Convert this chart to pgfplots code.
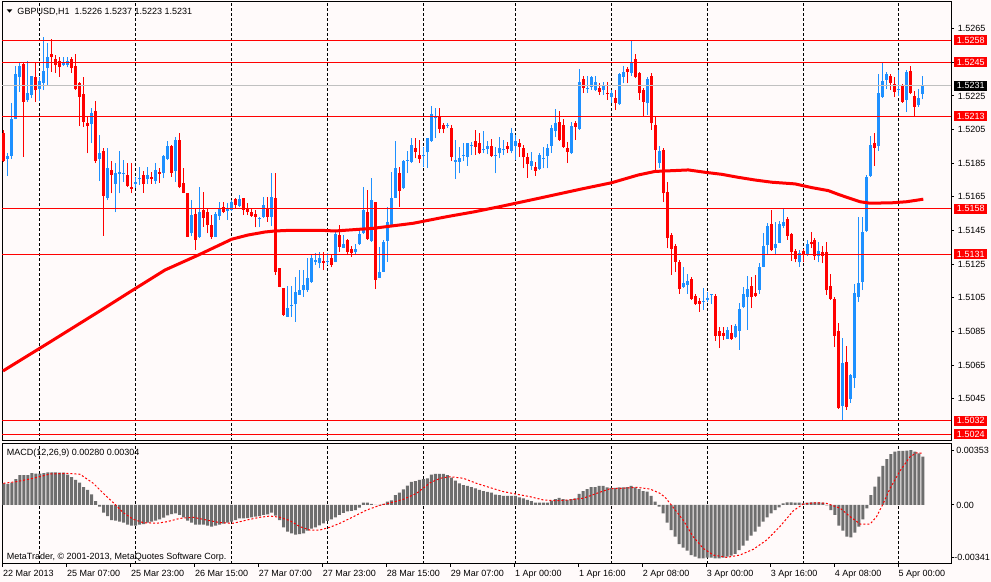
\documentclass[border=0pt]{standalone}
\usepackage{pgfplots}
\pgfplotsset{compat=1.18}
\usepackage{pgfplotstable}
\usepackage{fontspec}
\setmainfont{Liberation Sans}
\definecolor{bg}{RGB}{255,250,250}
\definecolor{bullc}{RGB}{30,144,255}
\definecolor{bearc}{RGB}{255,0,0}
\definecolor{macdgray}{RGB}{110,110,110}
\definecolor{bidgray}{RGB}{192,192,192}
\newcommand{\lab}{\fontsize{9bp}{10bp}\selectfont}

\pgfplotstableread{
i O H L C
1 1.51877 1.51909 1.51776 1.51893
2 1.51895 1.52206 1.51875 1.52113
3 1.52115 1.52430 1.52111 1.52381
4 1.52363 1.52444 1.52275 1.52428
6 1.52226 1.52458 1.52216 1.52266
7 1.52256 1.52369 1.52236 1.52369
9 1.52291 1.52364 1.52220 1.52341
10 1.52329 1.52602 1.52285 1.52398
11 1.52418 1.52563 1.52315 1.52480
15 1.52436 1.52483 1.52428 1.52452
16 1.52436 1.52483 1.52420 1.52456
22 1.52083 1.52177 1.51969 1.52147
24 1.51875 1.52018 1.51746 1.51909
26 1.51645 1.51939 1.51631 1.51820
28 1.51727 1.51850 1.51558 1.51794
29 1.51788 1.51923 1.51671 1.51798
30 1.51788 1.51869 1.51740 1.51792
33 1.51727 1.51770 1.51701 1.51738
34 1.51758 1.51826 1.51721 1.51764
36 1.51756 1.51826 1.51725 1.51778
38 1.51746 1.51850 1.51727 1.51810
40 1.51794 1.51899 1.51760 1.51893
41 1.51875 1.51982 1.51869 1.51952
43 1.51804 1.52006 1.51740 1.51988
47 1.51433 1.51631 1.51417 1.51542
49 1.51410 1.51711 1.51404 1.51562
53 1.51413 1.51562 1.51410 1.51548
54 1.51536 1.51621 1.51513 1.51582
56 1.51568 1.51615 1.51513 1.51582
57 1.51572 1.51631 1.51568 1.51621
59 1.51596 1.51661 1.51592 1.51636
64 1.51517 1.51532 1.51469 1.51523
65 1.51532 1.51651 1.51523 1.51602
67 1.51532 1.51790 1.51477 1.51651
71 1.50938 1.51120 1.50938 1.50991
72 1.51001 1.51120 1.50938 1.51007
73 1.51011 1.51175 1.50908 1.51086
74 1.51067 1.51215 1.51067 1.51096
75 1.51096 1.51215 1.51057 1.51126
76 1.51096 1.51285 1.51086 1.51166
77 1.51142 1.51304 1.51140 1.51285
78 1.51265 1.51314 1.51245 1.51275
79 1.51255 1.51324 1.51225 1.51285
81 1.51265 1.51314 1.51245 1.51269
83 1.51265 1.51443 1.51261 1.51429
85 1.51348 1.51423 1.51344 1.51370
88 1.51321 1.51368 1.51304 1.51340
89 1.51368 1.51463 1.51364 1.51428
90 1.51433 1.51707 1.51429 1.51572
92 1.51389 1.51760 1.51384 1.51631
94 1.51170 1.51354 1.51166 1.51205
95 1.51205 1.51394 1.51202 1.51384
96 1.51388 1.51588 1.51265 1.51499
97 1.51483 1.51800 1.51477 1.51642
98 1.51645 1.51982 1.51642 1.51820
100 1.51701 1.51869 1.51695 1.51863
101 1.51865 1.51923 1.51790 1.51869
102 1.51859 1.52002 1.51850 1.51958
105 1.51891 1.51948 1.51829 1.51897
106 1.51915 1.52002 1.51823 1.51998
107 1.51982 1.52190 1.51978 1.52141
108 1.52117 1.52177 1.52002 1.52123
111 1.52071 1.52091 1.52058 1.52077
113 1.51859 1.51988 1.51756 1.51869
114 1.51859 1.51948 1.51790 1.51879
115 1.51893 1.51969 1.51863 1.51899
116 1.51889 1.51972 1.51835 1.51969
117 1.51952 1.51974 1.51899 1.51958
120 1.51927 1.52043 1.51909 1.51933
121 1.51933 1.51982 1.51903 1.51952
123 1.51893 1.51948 1.51790 1.51899
124 1.51909 1.52008 1.51879 1.51939
125 1.51927 1.51988 1.51899 1.51933
127 1.51923 1.52058 1.51909 1.52028
128 1.51952 1.52018 1.51869 1.51982
132 1.51834 1.51919 1.51810 1.51863
134 1.51816 1.51909 1.51810 1.51899
135 1.51879 1.51948 1.51820 1.51883
136 1.51895 1.51964 1.51820 1.51942
137 1.51952 1.52077 1.51913 1.52061
138 1.52043 1.52172 1.52004 1.52087
142 1.51909 1.52097 1.51905 1.52071
144 1.52054 1.52410 1.52048 1.52335
146 1.52293 1.52370 1.52266 1.52299
147 1.52305 1.52370 1.52285 1.52361
148 1.52285 1.52370 1.52281 1.52335
150 1.52285 1.52335 1.52256 1.52309
152 1.52246 1.52285 1.52206 1.52266
154 1.52200 1.52385 1.52196 1.52381
155 1.52364 1.52428 1.52325 1.52391
157 1.52385 1.52577 1.52369 1.52454
161 1.52206 1.52364 1.52137 1.52349
164 1.51850 1.51952 1.51820 1.51923
170 1.51116 1.51235 1.51107 1.51136
171 1.51126 1.51192 1.51073 1.51150
175 1.51027 1.51107 1.50977 1.51033
176 1.51037 1.51086 1.51027 1.51047
177 1.51065 1.51073 1.51013 1.51071
181 1.50805 1.50878 1.50803 1.50859
183 1.50819 1.50892 1.50809 1.50884
184 1.50854 1.51017 1.50740 1.50983
185 1.50994 1.51116 1.50988 1.51073
186 1.51057 1.51181 1.50859 1.51102
189 1.51096 1.51255 1.51073 1.51235
190 1.51235 1.51433 1.51231 1.51358
191 1.51364 1.51493 1.51304 1.51477
193 1.51344 1.51502 1.51304 1.51370
194 1.51378 1.51508 1.51374 1.51489
195 1.51477 1.51578 1.51463 1.51502
199 1.51261 1.51334 1.51235 1.51314
201 1.51304 1.51394 1.51299 1.51370
204 1.51300 1.51384 1.51261 1.51328
210 1.50407 1.50813 1.50319 1.50664
212 1.50448 1.50597 1.50426 1.50591
213 1.50575 1.51132 1.50516 1.51077
214 1.51057 1.51532 1.51027 1.51140
215 1.51146 1.51532 1.51096 1.51443
216 1.51449 1.51780 1.51443 1.51770
217 1.51776 1.52012 1.51770 1.51958
219 1.51952 1.52381 1.51925 1.52266
220 1.52246 1.52450 1.52238 1.52341
221 1.52345 1.52394 1.52290 1.52381
224 1.52284 1.52404 1.52250 1.52290
226 1.52226 1.52404 1.52156 1.52391
229 1.52196 1.52291 1.52186 1.52236
230 1.52260 1.52370 1.52230 1.52310
}\bull

\pgfplotstableread{
i O H L C
0 1.52028 1.52048 1.51859 1.51863
5 1.52440 1.52444 1.51889 1.52216
8 1.52363 1.52448 1.52216 1.52285
12 1.52499 1.52587 1.52394 1.52483
13 1.52470 1.52493 1.52385 1.52436
14 1.52456 1.52483 1.52364 1.52424
17 1.52468 1.52483 1.52388 1.52418
18 1.52428 1.52499 1.52285 1.52290
19 1.52325 1.52335 1.52071 1.52246
20 1.52262 1.52364 1.52067 1.52097
21 1.52087 1.52127 1.51909 1.52071
23 1.52161 1.52220 1.51850 1.51865
25 1.51923 1.51939 1.51419 1.51657
27 1.51810 1.51863 1.51671 1.51780
31 1.51780 1.51850 1.51711 1.51715
32 1.51711 1.51850 1.51671 1.51699
35 1.51778 1.51806 1.51675 1.51727
37 1.51770 1.51800 1.51727 1.51758
39 1.51798 1.51823 1.51734 1.51786
42 1.51952 1.51958 1.51770 1.51794
44 1.51988 1.52028 1.51701 1.51707
45 1.51731 1.51820 1.51671 1.51675
46 1.51671 1.51673 1.51410 1.51413
48 1.51548 1.51582 1.51334 1.51394
50 1.51572 1.51681 1.51473 1.51523
51 1.51562 1.51582 1.51433 1.51483
52 1.51483 1.51542 1.51398 1.51410
55 1.51588 1.51618 1.51552 1.51562
58 1.51636 1.51642 1.51582 1.51602
60 1.51642 1.51645 1.51542 1.51572
61 1.51582 1.51612 1.51542 1.51562
62 1.51562 1.51582 1.51532 1.51538
63 1.51548 1.51572 1.51469 1.51532
66 1.51586 1.51651 1.51502 1.51532
68 1.51642 1.51794 1.51186 1.51205
69 1.51225 1.51227 1.51112 1.51116
70 1.51107 1.51109 1.50942 1.50948
80 1.51269 1.51324 1.51215 1.51259
82 1.51285 1.51310 1.51231 1.51245
84 1.51423 1.51483 1.51324 1.51354
86 1.51394 1.51400 1.51304 1.51321
87 1.51340 1.51360 1.51294 1.51314
91 1.51558 1.51691 1.51394 1.51398
93 1.51618 1.51621 1.51101 1.51156
99 1.51794 1.51829 1.51592 1.51687
103 1.51939 1.52002 1.51879 1.51919
104 1.51899 1.51988 1.51850 1.51875
109 1.52127 1.52180 1.52028 1.52054
110 1.52077 1.52087 1.52028 1.52054
112 1.52061 1.52077 1.51865 1.51889
118 1.51982 1.52048 1.51899 1.51948
119 1.51969 1.52028 1.51903 1.51909
122 1.51952 1.51992 1.51889 1.51895
126 1.51952 1.51978 1.51909 1.51933
129 1.51969 1.51994 1.51889 1.51945
130 1.51942 1.51958 1.51820 1.51885
131 1.51885 1.51909 1.51764 1.51845
133 1.51829 1.51859 1.51776 1.51806
139 1.52097 1.52161 1.51984 1.51988
140 1.52077 1.52113 1.51939 1.51945
141 1.51939 1.51978 1.51850 1.51919
143 1.52087 1.52101 1.51988 1.52067
145 1.52349 1.52370 1.52266 1.52296
149 1.52296 1.52325 1.52256 1.52272
151 1.52269 1.52331 1.52226 1.52260
153 1.52240 1.52285 1.52166 1.52210
156 1.52410 1.52424 1.52325 1.52391
158 1.52470 1.52499 1.52355 1.52364
159 1.52385 1.52394 1.52226 1.52266
160 1.52285 1.52296 1.52131 1.52216
162 1.52369 1.52385 1.52048 1.52087
163 1.52077 1.52127 1.51810 1.51929
165 1.51929 1.51941 1.51618 1.51671
166 1.51677 1.51737 1.51344 1.51407
167 1.51423 1.51435 1.51186 1.51340
168 1.51358 1.51370 1.51205 1.51265
169 1.51261 1.51275 1.51073 1.51102
172 1.51162 1.51175 1.51037 1.51043
173 1.51063 1.51073 1.51007 1.51011
174 1.51031 1.51047 1.50967 1.51013
178 1.51063 1.51073 1.50793 1.50823
179 1.50854 1.50878 1.50750 1.50825
180 1.50843 1.50878 1.50799 1.50823
182 1.50843 1.50888 1.50799 1.50805
187 1.51120 1.51175 1.50988 1.51057
188 1.51080 1.51186 1.51057 1.51061
192 1.51489 1.51572 1.51328 1.51334
196 1.51518 1.51529 1.51394 1.51419
197 1.51428 1.51435 1.51271 1.51321
198 1.51328 1.51340 1.51261 1.51281
200 1.51328 1.51338 1.51261 1.51304
202 1.51384 1.51443 1.51344 1.51368
203 1.51394 1.51406 1.51275 1.51300
205 1.51321 1.51358 1.51255 1.51300
206 1.51324 1.51384 1.51067 1.51096
207 1.51120 1.51192 1.51037 1.51043
208 1.51043 1.51055 1.50759 1.50823
209 1.50853 1.50898 1.50389 1.50397
211 1.50670 1.50763 1.50383 1.50399
218 1.51969 1.52032 1.51834 1.51942
222 1.52370 1.52381 1.52285 1.52329
223 1.52321 1.52364 1.52246 1.52275
225 1.52309 1.52321 1.52208 1.52216
227 1.52398 1.52428 1.52260 1.52266
228 1.52250 1.52279 1.52131 1.52186
}\bear

\pgfplotstableread{
i m
-0.2 1.50615
11.56 1.50787
24.07 1.50972
31.58 1.51085
40.34 1.51215
48.6 1.51303
57.03 1.51398
61.1 1.51423
65.37 1.51441
67.87 1.51447
71.62 1.51451
79.55 1.51451
82.88 1.51447
92.47 1.51463
102.48 1.51493
110.84 1.51532
117.49 1.51560
124.17 1.51592
134.18 1.51643
144.62 1.51697
152.13 1.51734
158.78 1.51780
162.96 1.51801
171.3 1.51810
175.48 1.51796
179.65 1.51784
183.81 1.51766
188.0 1.51750
192.17 1.51737
198.0 1.51727
202.18 1.51705
206.33 1.51687
209.26 1.51661
214.27 1.51621
216.77 1.51612
222.6 1.51615
225.95 1.51621
230.1 1.51636
}\ma

\pgfplotstableread{
i h
0 0.00141
1 0.00137
2 0.00145
3 0.00169
4 0.00195
5 0.00195
6 0.00195
7 0.00208
8 0.00204
9 0.00204
10 0.00208
11 0.00213
12 0.00213
13 0.00213
14 0.00210
15 0.00210
16 0.00197
17 0.00182
18 0.00163
19 0.00145
20 0.00117
21 0.00098
22 0.00069
23 0.00026
24 -0.00011
25 -0.00050
26 -0.00072
27 -0.00098
28 -0.00102
29 -0.00109
30 -0.00115
31 -0.00128
32 -0.00135
33 -0.00135
34 -0.00128
35 -0.00124
36 -0.00115
37 -0.00109
38 -0.00102
39 -0.00093
40 -0.00082
41 -0.00067
42 -0.00059
43 -0.00054
44 -0.00065
45 -0.00080
46 -0.00102
47 -0.00115
48 -0.00128
49 -0.00128
50 -0.00128
51 -0.00135
52 -0.00141
53 -0.00135
54 -0.00128
55 -0.00122
56 -0.00115
57 -0.00109
58 -0.00098
59 -0.00087
60 -0.00087
61 -0.00085
62 -0.00080
63 -0.00076
64 -0.00072
65 -0.00065
66 -0.00061
67 -0.00050
68 -0.00069
69 -0.00098
70 -0.00145
71 -0.00174
72 -0.00184
73 -0.00193
74 -0.00189
75 -0.00184
76 -0.00167
77 -0.00154
78 -0.00145
79 -0.00132
80 -0.00119
81 -0.00104
82 -0.00093
83 -0.00080
84 -0.00065
85 -0.00052
86 -0.00041
87 -0.00039
88 -0.00033
89 -0.00017
90 0.00015
91 0.00015
92 0.00007
93 0.00001
94 -0.00002
95 0.00007
96 0.00022
97 0.00030
98 0.00065
99 0.00080
100 0.00102
101 0.00126
102 0.00150
103 0.00156
104 0.00163
105 0.00169
106 0.00174
107 0.00197
108 0.00202
109 0.00202
110 0.00202
111 0.00195
112 0.00178
113 0.00158
114 0.00141
115 0.00130
116 0.00124
117 0.00117
118 0.00109
119 0.00098
120 0.00091
121 0.00085
122 0.00080
123 0.00067
124 0.00065
125 0.00059
126 0.00059
127 0.00059
128 0.00059
129 0.00050
130 0.00043
131 0.00033
132 0.00026
133 0.00015
134 0.00015
135 0.00015
136 0.00015
137 0.00028
138 0.00039
139 0.00046
140 0.00039
141 0.00033
142 0.00039
143 0.00043
144 0.00072
145 0.00091
146 0.00104
147 0.00117
148 0.00117
149 0.00124
150 0.00124
151 0.00115
152 0.00111
153 0.00111
154 0.00115
155 0.00115
156 0.00117
157 0.00124
158 0.00115
159 0.00104
160 0.00091
161 0.00087
162 0.00059
163 0.00022
164 -0.00011
165 -0.00054
166 -0.00115
167 -0.00163
168 -0.00206
169 -0.00254
170 -0.00278
171 -0.00297
172 -0.00326
173 -0.00336
174 -0.00347
175 -0.00347
176 -0.00343
177 -0.00343
178 -0.00347
179 -0.00347
180 -0.00343
181 -0.00336
182 -0.00330
183 -0.00319
184 -0.00293
185 -0.00265
186 -0.00232
187 -0.00200
188 -0.00174
189 -0.00141
190 -0.00109
191 -0.00080
192 -0.00054
193 -0.00033
194 -0.00015
195 0.00011
196 0.00017
197 0.00017
198 0.00015
199 0.00015
200 0.00011
201 0.00015
202 0.00017
203 0.00017
204 0.00017
205 0.00015
206 -0.00002
207 -0.00033
208 -0.00065
209 -0.00135
210 -0.00167
211 -0.00206
212 -0.00210
213 -0.00180
214 -0.00141
215 -0.00093
216 -0.00022
217 0.00065
218 0.00119
219 0.00184
220 0.00254
221 0.00299
222 0.00332
223 0.00347
224 0.00352
225 0.00352
226 0.00354
227 0.00358
228 0.00347
229 0.00336
230 0.00315
}\macd

\pgfplotstableread{
i s
-0.1 0.00141
3.2 0.00152
7.4 0.00174
11.6 0.00202
15.7 0.00206
19.1 0.00200
22.4 0.00141
24.9 0.00076
27.4 0.00015
29.9 -0.00050
32.4 -0.00093
34.9 -0.00115
38.3 -0.00119
40.8 -0.00109
44.1 -0.00087
47.4 -0.00080
50.8 -0.00098
54.1 -0.00115
57.4 -0.00119
60.8 -0.00098
64.1 -0.00080
66.6 -0.00072
69.1 -0.00080
71.6 -0.00102
74.1 -0.00141
76.6 -0.00163
79.1 -0.00163
81.6 -0.00145
84.1 -0.00119
87.5 -0.00076
90.8 -0.00033
94.1 -0.00002
96.6 0.00013
100.0 0.00037
103.3 0.00076
106.7 0.00145
109.2 0.00174
111.7 0.00184
115.0 0.00174
118.3 0.00141
121.7 0.00113
125.0 0.00087
128.4 0.00070
131.7 0.00054
135.0 0.00033
138.4 0.00028
141.7 0.00033
145.0 0.00044
148.4 0.00076
151.7 0.00106
155.0 0.00109
158.4 0.00115
161.7 0.00104
164.2 0.00076
165.5 0.00050
167.5 -0.00015
170.0 -0.00098
172.5 -0.00206
175.0 -0.00282
177.6 -0.00326
180.9 -0.00341
184.2 -0.00326
187.6 -0.00288
190.9 -0.00228
194.2 -0.00141
197.6 -0.00037
200.1 0.00007
203.4 0.00015
205.9 0.00011
209.3 -0.00021
211.8 -0.00076
214.3 -0.00124
216.8 -0.00124
218.4 -0.00076
220.1 0.00011
221.8 0.00109
224.3 0.00223
226.8 0.00314
228.4 0.00340
230.1 0.00337
}\sig

\tikzset{
  pricebox/.style={fill=#1, text=white, font=\lab, inner sep=0pt, minimum width=33bp, minimum height=10bp, anchor=west},
}
\pgfplotsset{
  mt/.style={
    scale only axis, width=948.7bp, anchor=south west,
    xmin=-0.375, xmax=237.04,
    axis line style={line width=1bp, black},
    tick style={line width=1bp, black},
    tick align=outside, major tick length=3bp,
    ytick pos=right, yticklabel pos=right,
    scaled ticks=false,
    ticklabel style={font=\lab},
    yticklabel style={anchor=west, inner sep=0pt, xshift=3.7bp},
    clip=false,
  },
  gridline/.style={black, line width=1bp, dash pattern=on 3bp off 2bp, forget plot},
  wick/.style={no markers, draw=none, forget plot,
    error bars/.cd, y dir=plus, y explicit, error mark=none,
    error bar style={line width=1bp, draw=#1, solid}},
  body/.style={no markers, draw=none, forget plot,
    error bars/.cd, y dir=plus, y explicit, error mark=none,
    error bar style={line width=3bp, draw=#1, solid}},
}

\begin{document}
\begin{tikzpicture}[x=1bp,y=1bp]
\fill[bg] (0,0) rectangle (991,582);

% ---------- price panel ----------
\begin{axis}[mt, at={(2.3bp,141bp)}, height=439bp,
  ymin=1.501985, ymax=1.528085,
  xtick=\empty,
  ytick={1.5045,1.5065,1.5085,1.5105,1.5125,1.5145,1.5165,1.5185,1.5205,1.5225,1.5245,1.5265},
  yticklabels={1.5045,1.5065,1.5085,1.5105,1.5125,1.5145,1.5165,1.5185,1.5205,1.5225,,1.5265},
]
\pgfplotsinvokeforeach{9,33,57,81,105,128,152,176,200,224}{
  \addplot[gridline] coordinates {(#1,1.501985) (#1,1.528085)};
}
\addplot[wick=bullc] table[x=i, y=L, y error plus expr={\thisrow{H}-\thisrow{L}}] {\bull};
\addplot[body=bullc] table[x=i, y=O, y error plus expr={\thisrow{C}-\thisrow{O}}] {\bull};
\addplot[wick=bearc] table[x=i, y=L, y error plus expr={\thisrow{H}-\thisrow{L}}] {\bear};
\addplot[body=bearc] table[x=i, y=C, y error plus expr={\thisrow{O}-\thisrow{C}}] {\bear};
\addplot[bearc, line width=3bp, forget plot] table[x=i, y=m] {\ma};
\addplot[bidgray, line width=1bp, forget plot] coordinates {(-0.375,1.5231) (237.04,1.5231)};
\pgfplotsinvokeforeach{1.5258,1.5245,1.5213,1.5158,1.5131,1.5032,1.5024}{
  \addplot[bearc, line width=1bp, forget plot] coordinates {(-0.375,#1) (237.04,#1)};
  \node[pricebox=bearc] at (axis cs:237.8,#1) {#1};
}
\node[pricebox=black] at (axis cs:237.8,1.5231) {1.5231};
\end{axis}

% ---------- MACD panel ----------
\begin{axis}[mt, at={(2.3bp,18bp)}, height=120.7bp,
  ymin=-0.003841, ymax=0.004017,
  xtick pos=bottom,
  xtick={-0.2,15.8,31.8,47.8,63.8,79.8,95.8,111.8,127.9,143.9,159.9,175.9,191.9,207.9,223.9},
  xticklabels={22 Mar 2013,25 Mar 07:00,25 Mar 23:00,26 Mar 15:00,27 Mar 07:00,27 Mar 23:00,28 Mar 15:00,29 Mar 07:00,1 Apr 00:00,1 Apr 16:00,2 Apr 08:00,3 Apr 00:00,3 Apr 16:00,4 Apr 08:00,5 Apr 00:00},
  xticklabel style={anchor=north west, inner sep=0pt, yshift=-3bp},
  ytick={-0.00341,0,0.00353},
  yticklabels={\hspace*{-3.5bp}-0.00341,\hspace*{-1.5bp}0.00,\hspace*{-1.5bp}0.00353},
]
\pgfplotsinvokeforeach{9,33,57,81,105,128,152,176,200,224}{
  \addplot[gridline] coordinates {(#1,-0.003841) (#1,0.004017)};
}
\addplot[ybar, bar width=3bp, fill=macdgray, draw=none, forget plot] table[x=i, y=h] {\macd};
\addplot[bearc, line width=1bp, dash pattern=on 2bp off 2bp, forget plot] table[x=i, y=s] {\sig};
\end{axis}

% ---------- texts ----------
\fill[black] (6.7,572.7) -- (12.3,572.7) -- (9.5,569.3) -- cycle;
\node[anchor=base west, inner sep=0pt, font=\lab] at (17.3,567.8) {GBPUSD,H1\ \ 1.5226 1.5237 1.5223 1.5231};
\node[anchor=base west, inner sep=0pt, font=\lab] at (6.7,126.5) {MACD(12,26,9) 0.00280 0.00304};
\node[anchor=base west, inner sep=0pt, font=\lab] at (6.7,22) {MetaTrader, © 2001-2013, MetaQuotes Software Corp.};

\pgfresetboundingbox
\useasboundingbox (0,0) rectangle (991,582);
\end{tikzpicture}
\end{document}
